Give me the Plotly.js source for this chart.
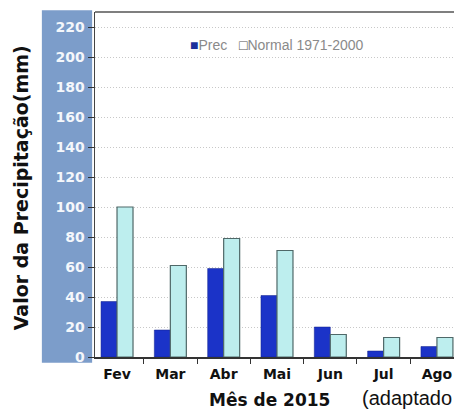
<!DOCTYPE html>
<html><head><meta charset="utf-8">
<script src="https://cdn.plot.ly/plotly-3.0.1.min.js"></script>
<style>html,body{margin:0;padding:0;background:#fff}#chart{width:454px;height:410px}</style>
</head><body><div id="chart"></div>
<script>
const months = ["Fev","Mar","Abr","Mai","Jun","Jul","Ago"];
const prec = [37, 18, 59, 41, 20, 4, 7];
const normal = [100, 61, 79, 71, 15, 13, 13];
const yTicks = [0,20,40,60,80,100,120,140,160,180,200,220];

const data = [
  {type:'bar', name:'Prec', x:months, y:prec,
   marker:{color:'#1b33c8', line:{color:'#10208a', width:0.5}}},
  {type:'bar', name:'Normal 1971-2000', x:months, y:normal,
   marker:{color:'#bdeeee', line:{color:'#4f6868', width:1.2}}}
];

const layout = {
  width:454, height:410,
  margin:{l:95, r:0, t:12, b:53},
  paper_bgcolor:'#fff', plot_bgcolor:'#fff',
  showlegend:false,
  barmode:'group', bargap:0.4, bargroupgap:0,
  xaxis:{type:'category', range:[-0.413, 6.32], showline:true, linecolor:'#333', linewidth:1.5,
    ticks:'outside', tickson:'boundaries', ticklen:5, tickcolor:'#333', ticklabelstandoff:4,
    tickfont:{family:'DejaVu Sans', size:14, color:'#111', weight:'bold'},
    showgrid:false, fixedrange:true},
  yaxis:{range:[0,230], tickvals:yTicks, ticktext:yTicks.map(String),
    showline:true, linecolor:'#444', linewidth:1.5, mirror:false,
    ticks:'outside', ticklen:6, tickcolor:'#333',
    tickfont:{family:'DejaVu Sans', size:14, color:'#f4f7fb', weight:'bold'},
    showgrid:true, gridcolor:'#c8c8c8', griddash:'1px,2px', gridwidth:1,
    zeroline:false, fixedrange:true},
  shapes:[
    {type:'rect', xref:'paper', yref:'paper', x0:-0.148, x1:-0.008, y0:-0.017, y1:1.005,
     fillcolor:'#7c9dca', line:{width:0}, layer:'below'},
    {type:'line', xref:'paper', yref:'paper', x0:0, x1:1, y0:1, y1:1,
     line:{color:'#555', width:1.5}}
  ],
  annotations:[
    {xref:'paper', yref:'paper', x:-0.205, y:0.49, xanchor:'center', yanchor:'middle',
     text:'Valor da Precipitação(mm)', textangle:-90, showarrow:false,
     font:{family:'DejaVu Sans', size:19, color:'#111', weight:'bold'}},
    {xref:'paper', yref:'paper', x:0.485, y:-0.125, xanchor:'center', yanchor:'middle',
     text:'Mês de 2015', showarrow:false,
     font:{family:'DejaVu Sans', size:17, color:'#111', weight:'bold'}},
    {xref:'paper', yref:'paper', x:1.0, y:-0.12, xanchor:'right', yanchor:'middle',
     text:'(adaptado', showarrow:false,
     font:{family:'Liberation Sans, Arial', size:20, color:'#111'}},
    {xref:'paper', yref:'paper', x:0.259, y:0.905, xanchor:'left', yanchor:'middle',
     text:"<span style='color:#1b2f9a'>■</span>Prec   <span style='color:#555'>□</span>Normal 1971-2000", showarrow:false,
     font:{family:'Liberation Sans, Arial', size:14, color:'#8a8a8a'}}
  ]
};
Plotly.newPlot('chart', data, layout, {displayModeBar:false, staticPlot:true});
</script></body></html>
